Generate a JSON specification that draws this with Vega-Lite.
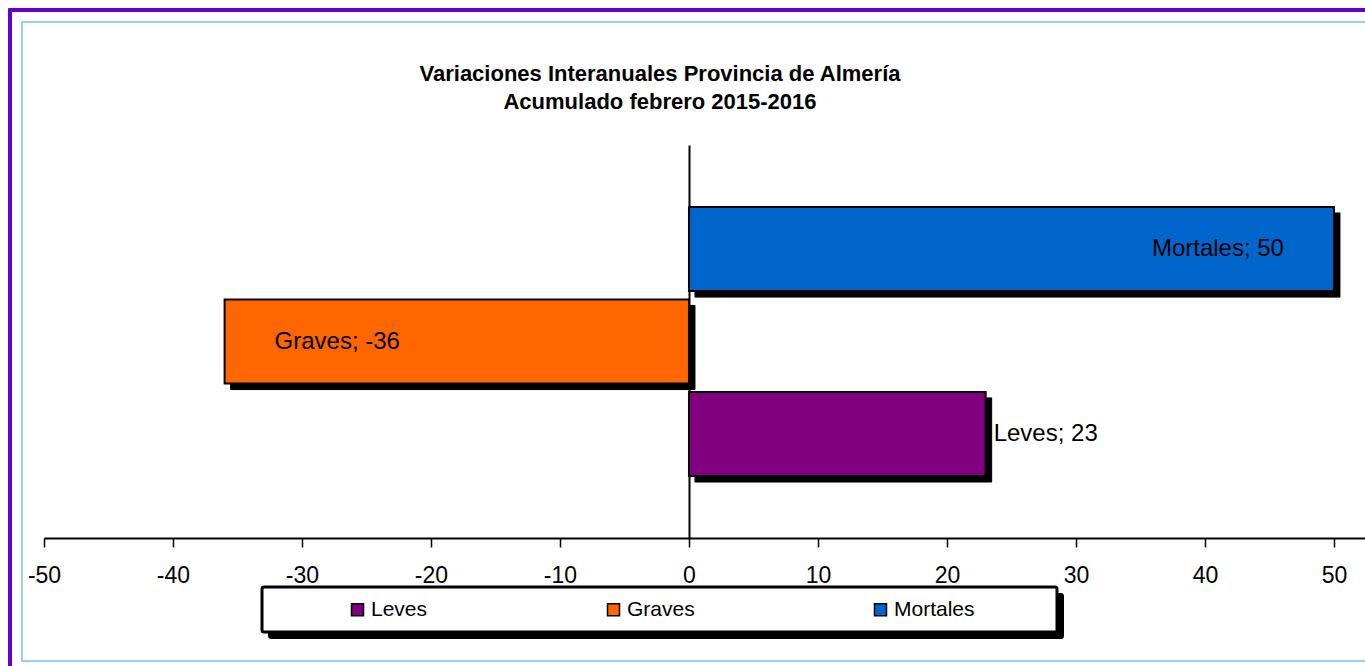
{
  "$schema": "https://vega.github.io/schema/vega-lite/v6.json",
  "width": 1346,
  "height": 639,
  "autosize": {"type": "none"},
  "padding": {"left": 22, "top": 22, "right": -3, "bottom": 5},
  "background": "white",
  "config": {
    "view": {"stroke": "#99CCFF", "strokeWidth": 2},
    "font": "Liberation Sans"
  },
  "title": {
    "text": ["Variaciones Interanuales Provincia de Almería", "Acumulado febrero 2015-2016"],
    "orient": "top",
    "anchor": "middle",
    "frame": "group",
    "offset": -104,
    "baseline": "top",
    "dx": -35,
    "font": "Liberation Sans",
    "fontSize": 22,
    "fontWeight": "bold",
    "color": "black",
    "lineHeight": 28
  },
  "data": {
    "values": [
      {"tipo": "Leves", "variacion": 23, "etiqueta": "Leves; 23"},
      {"tipo": "Graves", "variacion": -36, "etiqueta": "Graves; -36"},
      {"tipo": "Mortales", "variacion": 50, "etiqueta": "Mortales; 50"}
    ]
  },
  "layer": [
    {
      "mark": {"type": "point", "opacity": 0},
      "encoding": {
        "x": {
          "datum": 0, "type": "quantitative",
          "scale": {"domain": [0, 1], "range": [-14, 1346], "nice": false},
          "axis": {"orient": "top", "offset": 12.5, "domainColor": "#6600CC", "domainWidth": 4, "ticks": false, "labels": false, "grid": false, "title": null}
        },
        "y": {
          "datum": 0, "type": "quantitative",
          "scale": {"domain": [0, 1], "range": [660, -14], "nice": false},
          "axis": {"orient": "left", "offset": 12.5, "domainColor": "#6600CC", "domainWidth": 4, "ticks": false, "labels": false, "grid": false, "title": null}
        }
      }
    },
    {
      "encoding": {
        "x": {
          "field": "variacion", "type": "quantitative",
          "scale": {"domain": [-50, 52.64], "range": [22, 1346], "nice": false, "zero": false},
          "axis": {
            "orient": "bottom", "offset": -123, "values": [-50, -40, -30, -20, -10, 0, 10, 20, 30, 40, 50],
            "labelExpr": "replace(datum.label, '\u2212', '-')",
            "domainColor": "black", "domainWidth": 2, "tickColor": "black", "tickWidth": 1.5, "tickSize": 9,
            "labelFont": "Liberation Sans", "labelFontSize": 23, "labelColor": "black", "labelPadding": 17,
            "grid": false, "title": null, "labelFlush": false, "labelOverlap": false
          }
        },
        "y": {
          "field": "tipo", "type": "nominal", "sort": ["Mortales", "Graves", "Leves"],
          "scale": {"range": [123, 516], "paddingInner": 0.09, "paddingOuter": 0.67},
          "axis": {"orient": "left", "offset": -667, "domainColor": "black", "domainWidth": 2, "ticks": false, "labels": false, "grid": false, "title": null}
        }
      },
      "layer": [
        {
          "mark": {"type": "bar", "color": "black", "xOffset": 6, "x2Offset": 6, "yOffset": 6, "y2Offset": 6},
          "encoding": {
            "stroke": {
              "field": "etiqueta", "type": "nominal",
              "scale": {"domain": ["Leves; 23", "Graves; -36", "Mortales; 50"], "range": ["black", "black", "black"]},
              "legend": {
                "orient": "none", "legendX": 246, "legendY": 571, "zindex": 0,
                "values": ["Leves; 23"],
                "title": "\u00a0", "titleOrient": "left", "titleFontSize": 1, "titlePadding": 747,
                "padding": 12, "strokeColor": "black", "fillColor": "black", "cornerRadius": 2,
                "symbolType": "square", "symbolSize": 144, "symbolStrokeWidth": 1.5, "symbolOpacity": 0,
                "labelFont": "Liberation Sans", "labelFontSize": 21, "labelOpacity": 0, "labelOffset": 3,
                "labelExpr": "''",
                "encode": {"legend": {"update": {"strokeWidth": {"value": 3}}}}
              }
            }
          }
        },
        {
          "mark": {"type": "bar", "stroke": "black", "strokeWidth": 2},
          "encoding": {
            "color": {
              "field": "tipo", "type": "nominal",
              "scale": {"domain": ["Leves", "Graves", "Mortales"], "range": ["#800080", "#FF6600", "#0066CC"]},
              "legend": {
                "orient": "none", "legendX": 240, "legendY": 565, "zindex": 1,
                "direction": "horizontal", "columns": 3, "columnPadding": 175,
                "title": "\u00a0", "titleOrient": "left", "titleFontSize": 1, "titlePadding": 73,
                "padding": 12, "strokeColor": "black", "fillColor": "white", "cornerRadius": 2,
                "symbolType": "square", "symbolSize": 144, "symbolStrokeColor": "black", "symbolStrokeWidth": 1.5, "symbolOpacity": 1,
                "labelFont": "Liberation Sans", "labelFontSize": 21, "labelColor": "black", "labelOffset": 3,
                "labelExpr": "datum.label == 'Mortales' ? 'Mortales\u00a0\u00a0\u00a0\u00a0\u00a0\u00a0\u00a0\u00a0\u00a0\u00a0\u00a0\u00a0\u200b' : datum.label",
                "encode": {"legend": {"update": {"strokeWidth": {"value": 3}}}}
              }
            }
          }
        },
        {
          "transform": [{"filter": "datum.tipo == 'Mortales'"}],
          "mark": {"type": "text", "align": "right", "baseline": "middle", "dx": -50, "fontSize": 24, "font": "Liberation Sans", "color": "black"},
          "encoding": {"text": {"field": "etiqueta"}}
        },
        {
          "transform": [{"filter": "datum.tipo == 'Graves'"}],
          "mark": {"type": "text", "align": "left", "baseline": "middle", "dx": 50, "fontSize": 24, "font": "Liberation Sans", "color": "black"},
          "encoding": {"text": {"field": "etiqueta"}}
        },
        {
          "transform": [{"filter": "datum.tipo == 'Leves'"}],
          "mark": {"type": "text", "align": "left", "baseline": "middle", "dx": 8, "fontSize": 24, "font": "Liberation Sans", "color": "black"},
          "encoding": {"text": {"field": "etiqueta"}}
        }
      ]
    }
  ],
  "resolve": {
    "scale": {"x": "independent", "y": "independent"},
    "axis": {"x": "independent", "y": "independent"}
  }
}
